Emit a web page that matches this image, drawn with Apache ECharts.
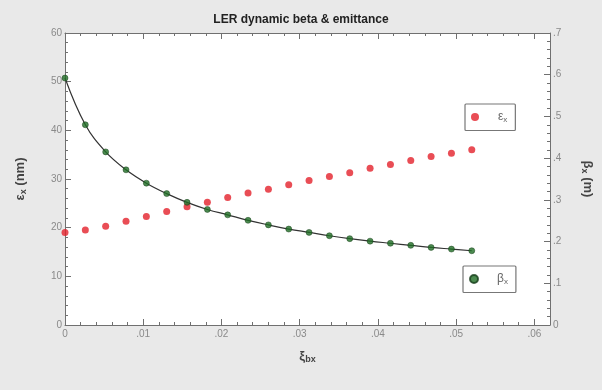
<!DOCTYPE html>
<html>
<head>
<meta charset="utf-8">
<script src="https://cdn.jsdelivr.net/npm/echarts@6/dist/echarts.min.js"></script>
<style>
  html, body { margin: 0; padding: 0; background: #e9e9e9; }
  #chart { width: 602px; height: 390px; }
</style>
</head>
<body>
<div id="chart"></div>
<script>
// Beam-beam parameter values (horizontal axis)
const xi = [0, 0.0026, 0.0052, 0.0078, 0.0104, 0.013, 0.0156, 0.0182, 0.0208, 0.0234,
            0.026, 0.0286, 0.0312, 0.0338, 0.0364, 0.039, 0.0416, 0.0442, 0.0468, 0.0494, 0.052];
// Dynamic emittance, nm (left axis)
const emittance = [19.0, 19.5, 20.3, 21.3, 22.3, 23.3, 24.3, 25.2, 26.2, 27.1,
                   27.9, 28.8, 29.7, 30.5, 31.3, 32.2, 33.0, 33.8, 34.6, 35.3, 36.0];
// Dynamic beta, m (right axis)
const beta = [0.592, 0.480, 0.415, 0.372, 0.340, 0.315, 0.294, 0.277, 0.264, 0.251,
              0.240, 0.230, 0.222, 0.214, 0.207, 0.201, 0.196, 0.191, 0.186, 0.182, 0.178];

const emitPts = xi.map((x, i) => [x, emittance[i]]);
const betaPts = xi.map((x, i) => [x, beta[i]]);

const FONT = 'Liberation Sans, Arial, sans-serif';
const axisGray = '#707070';
const labelGray = '#8a8a8a';

const chart = echarts.init(document.getElementById('chart'));

const baseAxis = {
  axisLine: { show: true, onZero: false, lineStyle: { color: axisGray, width: 1 } },
  axisTick: { show: true, inside: true, length: 6, lineStyle: { color: axisGray } },
  minorTick: { show: true, splitNumber: 5, length: 3, lineStyle: { color: axisGray } },
  splitLine: { show: false },
  axisLabel: { color: labelGray, fontFamily: FONT, fontSize: 10 }
};

const fmtX = v => {
  const k = Math.round(v * 100);
  if (Math.abs(v * 100 - k) > 1e-6) return '';
  return k === 0 ? '0' : '.' + String(k).padStart(2, '0');
};
const fmtBeta = v => {
  const k = Math.round(v * 10);
  if (Math.abs(v * 10 - k) > 1e-6) return '';
  return k === 0 ? '0' : '.' + k;
};

const subRich = {
  g: { fontFamily: FONT, fontSize: 13, color: '#444', fontWeight: 'bold' },
  s: { fontFamily: FONT, fontSize: 9, color: '#444', fontWeight: 'bold', verticalAlign: 'bottom', padding: [6, 0, 0, 0] },
  u: { fontFamily: FONT, fontSize: 13, color: '#444', fontWeight: 'bold' }
};
const legendRich = {
  g: { fontFamily: FONT, fontSize: 12, color: '#666' },
  s: { fontFamily: FONT, fontSize: 8, color: '#666', verticalAlign: 'bottom', padding: [5, 0, 0, 0] }
};

const legendBox = {
  orient: 'vertical',
  padding: [7, 8, 7, 6],
  itemWidth: 8, itemHeight: 8, itemGap: 0,
  icon: 'circle',
  borderColor: '#777', borderWidth: 1.2, borderRadius: 1,
  backgroundColor: '#ffffff',
  textStyle: { padding: [0, 0, 0, 14], rich: legendRich }
};

chart.setOption({
  backgroundColor: '#e9e9e9',
  animation: false,
  title: {
    text: 'LER dynamic beta & emittance',
    left: 'center', top: 9,
    textStyle: { fontFamily: FONT, fontSize: 12, fontWeight: 'bold', color: '#222' }
  },
  grid: {
    left: 65, right: 49, top: 33, bottom: 65,
    show: true, backgroundColor: '#ffffff', borderWidth: 0
  },
  legend: [
    Object.assign({}, legendBox, {
      data: ['emittance'], left: 465, top: 104,
      formatter: () => '{g|ε}{s|x}'
    }),
    Object.assign({}, legendBox, {
      data: ['beta'], left: 463, top: 266,
      formatter: () => '{g|β}{s|x}'
    })
  ],
  xAxis: [
    Object.assign({}, baseAxis, {
      type: 'value', min: 0, max: 0.062, interval: 0.01, position: 'bottom',
      axisLabel: Object.assign({}, baseAxis.axisLabel, { formatter: fmtX, margin: 4 }),
      name: '{g|ξ}{s|bx}', nameLocation: 'middle', nameGap: 24,
      nameTextStyle: { rich: subRich }
    }),
    Object.assign({}, baseAxis, {
      type: 'value', min: 0, max: 0.062, interval: 0.01, position: 'top',
      axisLabel: { show: false }
    })
  ],
  yAxis: [
    Object.assign({}, baseAxis, {
      type: 'value', min: 0, max: 60, interval: 10, position: 'left',
      axisLabel: Object.assign({}, baseAxis.axisLabel, { margin: 3 }),
      name: '{g|ε}{s|x}{u| (nm)}', nameLocation: 'middle', nameGap: 37, nameRotate: 90,
      nameTextStyle: { rich: subRich }
    }),
    Object.assign({}, baseAxis, {
      type: 'value', min: 0, max: 0.7, interval: 0.1, position: 'right',
      axisLabel: Object.assign({}, baseAxis.axisLabel, { formatter: fmtBeta, margin: 3 }),
      name: '{g|β}{s|x}{u| (m)}', nameLocation: 'middle', nameGap: 30, nameRotate: -90,
      nameTextStyle: { rich: subRich }
    })
  ],
  series: [
    {
      name: 'emittance', type: 'scatter', xAxisIndex: 0, yAxisIndex: 0,
      data: emitPts, symbol: 'circle', symbolSize: 7,
      itemStyle: { color: '#e3202a' }, z: 3
    },
    {
      name: 'beta fit', type: 'line', xAxisIndex: 0, yAxisIndex: 1,
      data: betaPts, smooth: 0.4, showSymbol: false, symbol: 'none',
      lineStyle: { color: '#333333', width: 1.2 }, z: 2
    },
    {
      name: 'beta', type: 'scatter', xAxisIndex: 0, yAxisIndex: 1,
      data: betaPts, symbol: 'circle', symbolSize: 6,
      itemStyle: { color: '#1f6e24', borderColor: '#173d1a', borderWidth: 0.6 }, z: 4
    }
  ]
});
</script>
</body>
</html>
